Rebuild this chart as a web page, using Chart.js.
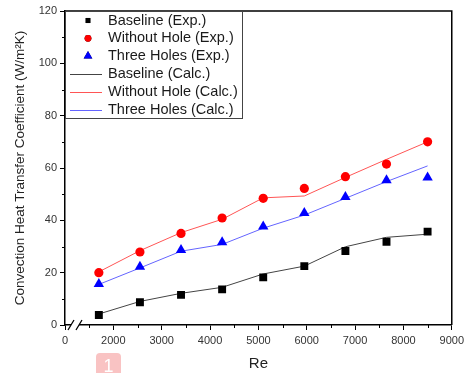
<!DOCTYPE html>
<html>
<head>
<meta charset="utf-8">
<script src="https://cdn.jsdelivr.net/npm/chart.js@4/dist/chart.umd.min.js"></script>
<style>
  body { margin: 0; background: #fff; }
  #wrap { position: relative; width: 468px; height: 373px; }
  #badge {
    position: absolute; left: 96px; top: 353px; width: 25px; height: 24px;
    background: #f9c3c3; border-radius: 4px; color: #fff;
    font: 18px "Liberation Sans", Arial, sans-serif; text-align: center; line-height: 26px;
  }
</style>
</head>
<body>
<div id="wrap">
  <canvas id="myChart" width="468" height="373"></canvas>
  <div id="badge">1</div>
</div>
<script>
var reValues = [1700, 2550, 3400, 4250, 5100, 5950, 6800, 7650, 8500];

var baselineExp = [3.8, 8.7, 11.5, 13.6, 18.2, 22.5, 28.3, 31.8, 35.7];
var withoutHoleExp = [20.0, 27.9, 35.0, 40.9, 48.4, 52.2, 56.7, 61.5, 70.0];
var threeHolesExp = [15.7, 22.3, 28.7, 31.6, 37.6, 42.8, 48.9, 55.3, 56.4];

var baselineCalc = [4.2, 9.0, 12.1, 14.4, 19.5, 22.5, 29.9, 33.5, 34.7];
var withoutHoleCalc = [20.3, 28.4, 35.3, 40.4, 48.6, 49.3, 56.4, 63.3, 70.0];
var threeHolesCalc = [15.5, 21.8, 28.2, 30.8, 37.0, 42.0, 48.4, 54.8, 60.8];

var xTicks = [1000, 2000, 3000, 4000, 5000, 6000, 7000, 8000, 9000];
var xTickLabels = ["0", "2000", "3000", "4000", "5000", "6000", "7000", "8000", "9000"];
var xMinor = [1500, 2500, 3500, 4500, 5500, 6500, 7500, 8500];
var yMinor = [10, 30, 50, 70, 90, 110];

var labels = [
    "Baseline (Exp.)", "Without Hole (Exp.)", "Three Holes (Exp.)",
    "Baseline (Calc.)", "Without Hole (Calc.)", "Three Holes (Calc.)"
];

function pts(ys) {
    return ys.map(function (y, i) { return {x: reValues[i], y: y}; });
}

var FONT = '"Liberation Sans", Arial, sans-serif';

// legend box, extra axis ticks, frame and axis break
var extras = {
    id: "extras",
    afterDraw: function (chart) {
        var ctx = chart.ctx;
        var a = chart.chartArea;
        var xs = chart.scales.x, ys = chart.scales.y;
        ctx.save();

        // frame top/right
        ctx.strokeStyle = "#000";
        ctx.lineWidth = 1.5;
        ctx.beginPath();
        ctx.moveTo(a.left, a.top);
        ctx.lineTo(a.right, a.top);
        ctx.lineTo(a.right, a.bottom);
        ctx.stroke();

        // minor ticks
        ctx.lineWidth = 1;
        ctx.beginPath();
        xMinor.forEach(function (v) {
            var px = Math.round(xs.getPixelForValue(v)) + 0.5;
            ctx.moveTo(px, a.bottom);
            ctx.lineTo(px, a.bottom + 3);
        });
        yMinor.forEach(function (v) {
            var py = Math.round(ys.getPixelForValue(v)) + 0.5;
            ctx.moveTo(a.left, py);
            ctx.lineTo(a.left - 3, py);
        });
        ctx.stroke();

        // axis break
        var bx = a.left + 6, by = a.bottom;
        ctx.fillStyle = "#fff";
        ctx.fillRect(bx, by - 2, 8, 4);
        ctx.lineWidth = 1.3;
        ctx.beginPath();
        [bx, bx + 8].forEach(function (x0) {
            ctx.moveTo(x0 - 3, by + 5);
            ctx.lineTo(x0 + 3, by - 5);
        });
        ctx.stroke();

        // legend
        var lx = a.left, ly = a.top, lw = 177, lh = 107;
        ctx.fillStyle = "#fff";
        ctx.fillRect(lx, ly, lw, lh);
        ctx.strokeStyle = "#444";
        ctx.lineWidth = 1;
        ctx.strokeRect(lx + 0.5, ly + 0.5, lw, lh);
        ctx.font = "14.5px " + FONT;
        ctx.textBaseline = "middle";
        chart.data.datasets.forEach(function (ds, i) {
            var ry = ly + 9.5 + i * 17.8;
            if (ds.showLine === false) {
                Chart.helpers.drawPoint(ctx, {
                    pointStyle: ds.pointStyle, radius: ds.legendRadius, rotation: 0, borderWidth: 0
                }, lx + 23, ry);
                ctx.fillStyle = ds.backgroundColor;
                ctx.fill();
            } else {
                ctx.strokeStyle = ds.borderColor;
                ctx.lineWidth = 1;
                ctx.beginPath();
                ctx.moveTo(lx + 5, Math.round(ry) + 0.5);
                ctx.lineTo(lx + 37, Math.round(ry) + 0.5);
                ctx.stroke();
            }
            ctx.fillStyle = "#1a1a1a";
            ctx.fillText(ds.label, lx + 43, ry);
        });
        ctx.restore();
    }
};

function expSet(i, data, color, style, r, lr) {
    return {
        label: labels[i], data: pts(data), showLine: false, order: 1,
        pointStyle: style, pointRadius: r, pointHoverRadius: r,
        backgroundColor: color, borderColor: color, borderWidth: 0,
        legendRadius: lr
    };
}

function calcSet(i, data, color) {
    return {
        label: labels[i], data: pts(data), showLine: true, order: 2,
        borderColor: color, backgroundColor: color, borderWidth: 1,
        pointRadius: 0, tension: 0
    };
}

new Chart("myChart", {
    type: "scatter",
    data: {
        datasets: [
            expSet(0, baselineExp, "#000", "rect", 5.6, 3.6),
            expSet(1, withoutHoleExp, "#ff0000", "circle", 4.6, 3.4),
            expSet(2, threeHolesExp, "#0000ff", "triangle", 6, 5),
            calcSet(3, baselineCalc, "#444"),
            calcSet(4, withoutHoleCalc, "#ff5555"),
            calcSet(5, threeHolesCalc, "#6464ff")
        ]
    },
    plugins: [extras],
    options: {
        responsive: false,
        animation: false,
        layout: {padding: {top: 11, right: 14, left: 0, bottom: 0}},
        plugins: {legend: {display: false}, tooltip: {enabled: false}},
        scales: {
            x: {
                type: "linear", min: 1000, max: 9000,
                afterBuildTicks: function (scale) {
                    scale.ticks = xTicks.map(function (v) { return {value: v}; });
                },
                afterFit: function (scale) { scale.height = 48; },
                ticks: {
                    autoSkip: false, maxRotation: 0, padding: 4, color: "#333",
                    font: {size: 11, family: FONT},
                    callback: function (v) { return xTickLabels[xTicks.indexOf(v)]; }
                },
                grid: {drawOnChartArea: false, tickLength: 5, color: "#000", tickColor: "#000"},
                border: {color: "#000", width: 1.5},
                title: {display: true, text: "Re", color: "#222", font: {size: 15, family: FONT}, padding: {top: 0, bottom: 0}}
            },
            y: {
                min: 0, max: 120,
                afterFit: function (scale) { scale.width = 65; },
                ticks: {stepSize: 20, padding: 3, color: "#333", font: {size: 11, family: FONT}},
                grid: {drawOnChartArea: false, tickLength: 5, color: "#000", tickColor: "#000"},
                border: {color: "#000", width: 1.5},
                title: {
                    display: true, text: "Convection Heat Transfer Coefficient (W/m\u00b2K)",
                    color: "#222", font: {size: 13.5, family: FONT}, padding: {top: 12, bottom: 0}
                }
            }
        }
    }
});
</script>
</body>
</html>
